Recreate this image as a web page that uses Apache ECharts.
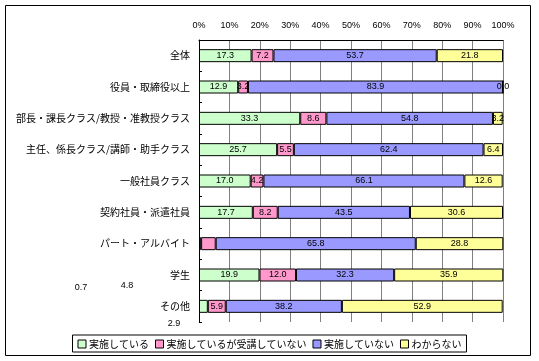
<!DOCTYPE html>
<html>
<head>
<meta charset="utf-8">
<script src="https://cdn.jsdelivr.net/npm/echarts@6/dist/echarts.min.js"></script>
<style>html,body{margin:0;padding:0;background:#fff;}#c{width:539px;height:361px;}</style>
</head>
<body>
<div id="c"></div>
<script>
var categories = ['全体','役員・取締役以上','部長・課長クラス/教授・准教授クラス','主任、係長クラス/講師・助手クラス','一般社員クラス','契約社員・派遣社員','パート・アルバイト','学生','その他'];
var seriesNames = ['実施している','実施しているが受講していない','実施していない','わからない'];
var implemented = [17.3,12.9,33.3,25.7,17.0,17.7,0.7,19.9,2.9];
var notAttended = [7.2,3.2,8.6,5.5,4.2,8.2,4.8,12.0,5.9];
var notImplemented = [53.7,83.9,54.8,62.4,66.1,43.5,65.8,32.3,38.2];
var unknown = [21.8,0.0,3.2,6.4,12.6,30.6,28.8,35.9,52.9];
var xTicks = [0,10,20,30,40,50,60,70,80,90,100];
var colors = ['#CCFFCC','#FF99CC','#9999FF','#FFFF99'];
// labels Excel drew away from their bars: [series, category]
var strayLabels = [[0,6],[1,6],[0,8]];

var all = [implemented, notAttended, notImplemented, unknown];
var chart = echarts.init(document.getElementById('c'), null, {renderer:'canvas'});
function isStray(s,i){ return strayLabels.some(function(p){return p[0]===s&&p[1]===i;}); }
var series = all.map(function(arr, s){
  return {
    name: seriesNames[s], type:'bar', stack:'t', barWidth:13,
    itemStyle:{color:colors[s], borderColor:'#000', borderWidth:1},
    label:{show:true, position:'inside', color:'#000', fontSize:9, fontFamily:'Liberation Sans',
      formatter:function(p){return p.value.toFixed(1);}},
    emphasis:{disabled:true},
    data: arr.map(function(v,i){ return isStray(s,i) ? {value:v, label:{show:false}} : v; })
  };
});
var strayPos = [[81,288],[127,286],[174,324]];
var graphics = [{type:'rect', shape:{x:5.5,y:5.5,width:525,height:350}, style:{fill:null, stroke:'#000', lineWidth:1}, silent:true}];
strayLabels.forEach(function(p,k){
  graphics.push({type:'text', x:strayPos[k][0], y:strayPos[k][1], style:{text:all[p[0]][p[1]].toFixed(1), fill:'#000', font:'9px Liberation Sans', align:'center', verticalAlign:'middle'}});
});
chart.setOption({
  animation:false,
  grid:{left:199, right:36, top:40, bottom:39},
  legend:{bottom:9, left:'center', data:seriesNames, itemWidth:8, itemHeight:8, itemGap:6,
    icon:'rect', borderColor:'#000', borderWidth:1, padding:[4,5,3,5], borderRadius:0,
    itemStyle:{borderColor:'#000', borderWidth:1},
    textStyle:{fontFamily:'Noto Sans CJK JP', fontSize:10, color:'#000', padding:[0,0,0,-2]}},
  xAxis:{type:'value', position:'top', min:0, max:100, interval:10,
    axisLine:{show:true, lineStyle:{color:'#000', width:1}},
    axisTick:{show:false},
    splitLine:{show:true, lineStyle:{color:'#808080', width:1}},
    axisLabel:{formatter:'{value}%', color:'#000', fontSize:9, fontFamily:'Liberation Sans', margin:10}},
  yAxis:{type:'category', inverse:true, data:categories,
    axisLine:{show:true, lineStyle:{color:'#000', width:1}},
    axisTick:{show:true, inside:true, length:3, lineStyle:{color:'#000'}},
    axisLabel:{color:'#000', fontSize:10, fontFamily:'Noto Sans CJK JP', margin:9}},
  series: series,
  graphic: graphics
});
</script>
</body>
</html>
